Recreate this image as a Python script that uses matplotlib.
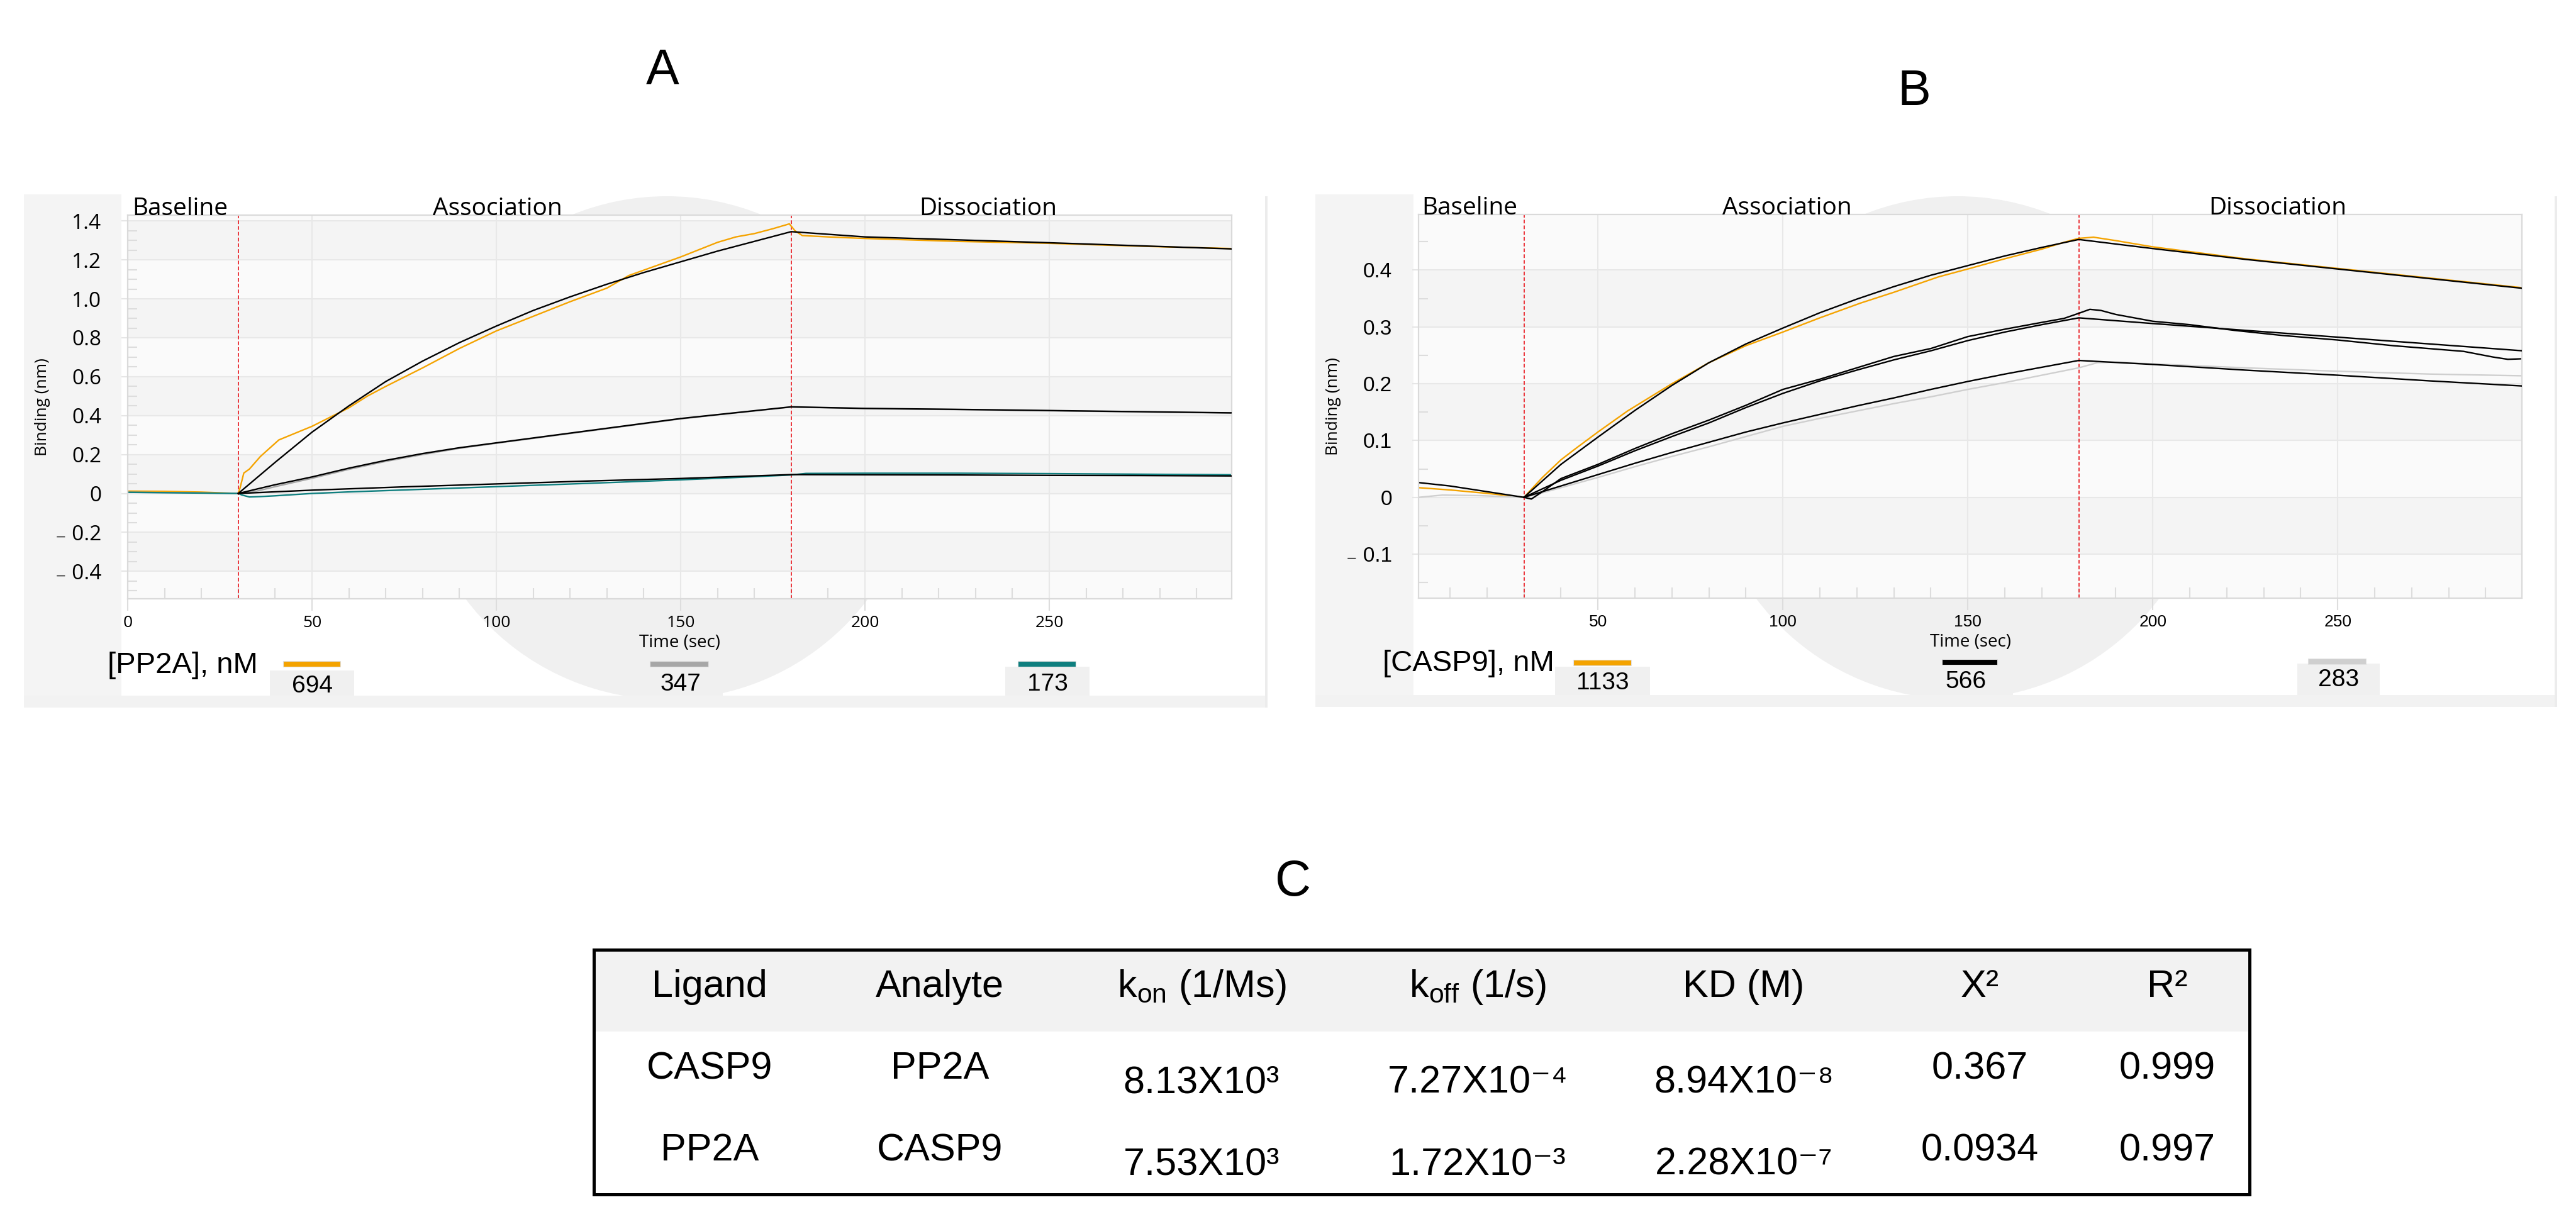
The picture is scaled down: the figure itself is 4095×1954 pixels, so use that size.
# BLI sensorgrams (PP2A / CASP9) and kinetics table
import matplotlib
matplotlib.use('Agg')
import matplotlib.pyplot as plt
import matplotlib.ticker as tck
from matplotlib.patches import Rectangle, Circle

plt.rcParams['mathtext.fontset'] = 'custom'
plt.rcParams['mathtext.rm'] = 'Liberation Sans'
plt.rcParams['mathtext.it'] = 'Liberation Sans:italic'
plt.rcParams['mathtext.bf'] = 'Liberation Sans:bold'

W, H = 4095, 1954

# ---------------- panel A : analyte PP2A ----------------
a694_t = [0, 10, 20, 30, 30.5, 31.5, 33, 36, 41, 50, 60, 65, 70, 80, 90, 100, 110, 120, 130, 136,
          150, 160, 165, 170, 175, 179.5, 181, 183, 190, 200, 225, 250, 275, 300]
a694_v = [0.012, 0.011, 0.007, 0.0, 0.03, 0.105, 0.125, 0.19, 0.275, 0.345, 0.44, 0.5, 0.55, 0.645,
          0.745, 0.835, 0.91, 0.985, 1.055, 1.12, 1.215, 1.29, 1.318, 1.335, 1.36, 1.385, 1.35, 1.325,
          1.318, 1.31, 1.295, 1.285, 1.27, 1.258]
a694_fit_t = [30, 40, 50, 60, 70, 80, 90, 100, 110, 120, 130, 140, 150, 160, 170, 180, 200, 225, 250, 275, 300]
a694_fit_v = [0, 0.16, 0.315, 0.45, 0.575, 0.68, 0.775, 0.86, 0.94, 1.01, 1.075, 1.135, 1.19, 1.245,
              1.295, 1.345, 1.318, 1.303, 1.288, 1.272, 1.256]

a347_t = [0, 15, 30, 35, 40, 50, 60, 70, 80, 90, 100, 110, 120, 130, 140, 150, 160, 170, 180, 190,
          200, 225, 250, 275, 300]
a347_v = [0.006, 0.004, 0.0, 0.012, 0.035, 0.078, 0.124, 0.165, 0.2, 0.232, 0.258, 0.283, 0.308,
          0.333, 0.358, 0.383, 0.404, 0.424, 0.444, 0.44, 0.436, 0.431, 0.425, 0.419, 0.413]
a347_fit_t = [30, 40, 50, 60, 70, 80, 90, 100, 110, 120, 130, 140, 150, 160, 170, 180, 200, 225, 250, 275, 300]
a347_fit_v = [0, 0.045, 0.085, 0.13, 0.17, 0.205, 0.235, 0.26, 0.285, 0.31, 0.335, 0.36, 0.385, 0.405,
              0.425, 0.445, 0.437, 0.432, 0.426, 0.42, 0.414]

a173_t = [0, 15, 30, 31, 33, 36, 40, 45, 50, 60, 75, 100, 125, 150, 165, 180, 184, 200, 225, 250, 275, 300]
a173_v = [0.006, 0.003, 0.0, -0.008, -0.018, -0.016, -0.012, -0.006, 0.0, 0.008, 0.018, 0.035, 0.052,
          0.07, 0.082, 0.095, 0.103, 0.104, 0.104, 0.102, 0.099, 0.096]
a173_fit_t = [30, 50, 75, 100, 125, 150, 165, 180, 200, 225, 250, 275, 300]
a173_fit_v = [0, 0.017, 0.034, 0.049, 0.064, 0.077, 0.087, 0.097, 0.096, 0.095, 0.093, 0.092, 0.09]

# ---------------- panel B : analyte CASP9 ----------------
b1133_t = [1.5, 10, 20, 30, 35, 40, 44, 50, 58, 70, 80, 90, 100, 110, 121, 130, 142, 150, 160, 170,
           176, 180, 184, 190, 200, 225, 250, 275, 300]
b1133_v = [0.017, 0.013, 0.007, 0.0, 0.035, 0.066, 0.086, 0.115, 0.152, 0.2, 0.237, 0.267, 0.291,
           0.316, 0.342, 0.361, 0.388, 0.402, 0.42, 0.437, 0.449, 0.456, 0.458, 0.452, 0.441, 0.42,
           0.403, 0.386, 0.369]
b1133_fit_t = [30, 40, 50, 60, 70, 80, 90, 100, 110, 120, 130, 140, 150, 160, 170, 180, 200, 225, 250, 275, 300]
b1133_fit_v = [0, 0.058, 0.106, 0.153, 0.197, 0.237, 0.27, 0.298, 0.325, 0.349, 0.371, 0.391, 0.408,
               0.425, 0.44, 0.454, 0.438, 0.419, 0.402, 0.385, 0.368]

b566_t = [1.5, 10, 20, 30, 32, 35, 40, 50, 60, 70, 80, 90, 100, 110, 120, 130, 140, 150, 160, 170,
          176, 180, 183, 186, 190, 200, 210, 222, 235, 250, 265, 284, 292, 296, 300]
b566_v = [0.026, 0.02, 0.01, 0.0, -0.003, 0.01, 0.033, 0.058, 0.086, 0.112, 0.136, 0.162, 0.19, 0.208,
          0.228, 0.248, 0.262, 0.283, 0.296, 0.308, 0.315, 0.324, 0.331, 0.329, 0.322, 0.31, 0.304,
          0.294, 0.285, 0.277, 0.267, 0.257, 0.247, 0.243, 0.244]
b566_fit_t = [30, 40, 50, 60, 70, 80, 90, 100, 110, 120, 130, 140, 150, 160, 170, 180, 200, 225, 250, 275, 300]
b566_fit_v = [0, 0.03, 0.055, 0.082, 0.107, 0.131, 0.158, 0.183, 0.205, 0.224, 0.242, 0.258, 0.276,
              0.291, 0.304, 0.316, 0.306, 0.294, 0.282, 0.27, 0.258]

b283_t = [1.5, 8, 18, 30, 35, 40, 50, 60, 70, 80, 90, 100, 110, 120, 130, 140, 150, 160, 170, 180,
          185, 190, 200, 225, 250, 275, 300]
b283_v = [0.0, 0.004, 0.003, 0.0, 0.008, 0.017, 0.035, 0.054, 0.072, 0.089, 0.107, 0.125, 0.139,
          0.152, 0.165, 0.177, 0.19, 0.202, 0.215, 0.228, 0.237, 0.238, 0.235, 0.228, 0.222, 0.217, 0.214]
b283_fit_t = [30, 40, 50, 60, 70, 80, 90, 100, 110, 120, 130, 140, 150, 160, 170, 180, 200, 225, 250, 275, 300]
b283_fit_v = [0, 0.02, 0.04, 0.06, 0.079, 0.097, 0.115, 0.131, 0.146, 0.161, 0.175, 0.19, 0.204,
              0.217, 0.229, 0.241, 0.234, 0.224, 0.215, 0.205, 0.196]

a_yticks = [-0.4, -0.2, 0, 0.2, 0.4, 0.6, 0.8, 1.0, 1.2, 1.4]
a_ylabels = ['\u208b 0.4', '\u208b 0.2', '0', '0.2', '0.4', '0.6', '0.8', '1.0', '1.2', '1.4']
a_xticks = [0, 50, 100, 150, 200, 250]
b_yticks = [-0.1, 0, 0.1, 0.2, 0.3, 0.4]
b_ylabels = ['\u208b 0.1', '0', '0.1', '0.2', '0.3', '0.4']
b_xticks = [50, 100, 150, 200, 250]

a_conc = ['694', '347', '173']
b_conc = ['1133', '566', '283']

# ---------------- table C ----------------
tbl_headers = ['Ligand', 'Analyte', r'k$_{\mathrm{on}}$ (1/Ms)', r'k$_{\mathrm{off}}$ (1/s)',
               'KD (M)', 'X\u00b2', 'R\u00b2']
tbl_ligand = ['CASP9', 'PP2A']
tbl_analyte = ['PP2A', 'CASP9']
tbl_kon = [(8.13, 3), (7.53, 3)]
tbl_koff = [(7.27, -4), (1.72, -3)]
tbl_kd = [(8.94, -8), (2.28, -7)]
tbl_chi2 = ['0.367', '0.0934']
tbl_r2 = ['0.999', '0.997']

ORANGE = '#f4a300'
TEAL = '#0f7f7f'
GREY = '#a6a6a6'
LGREY = '#cfcfcf'

fig = plt.figure(figsize=(W / 100, H / 100), dpi=100)


def fx(px):
    return px / W


def fy(py):
    return 1 - py / H


def frect(x0, y0, x1, y1, **kw):
    r = Rectangle((fx(x0), fy(y1)), (x1 - x0) / W, (y1 - y0) / H,
                  transform=fig.transFigure, **kw)
    fig.add_artist(r)
    return r


def panel_back(x0, x1, strip_x1, y0, y1, disc_c):
    frect(x0, y0 + 2, strip_x1, y1, facecolor='#f4f4f4', edgecolor='none', zorder=-6)
    frect(x0, y1 - 19, x1, y1, facecolor='#f2f2f2', edgecolor='none', zorder=-6)
    frect(x1 - 4, y0 + 5, x1, y1, facecolor='#ececec', edgecolor='none', zorder=-6)
    disc = Circle((disc_c[0] / 100, (H - disc_c[1]) / 100), 4.0,
                  transform=fig.dpi_scale_trans, facecolor='#f0f0f0', edgecolor='none', zorder=-8)
    fig.add_artist(disc)


def style_axes(ax, xlim, ylim, xticks, yticks, ylabels, tickfont, dark_bands):
    ax.set_xlim(*xlim)
    ax.set_ylim(*ylim)
    ax.set_facecolor('#fafafa')
    for lo, hi in dark_bands:
        ax.axhspan(lo, hi, color='#f4f4f4', lw=0, zorder=0.1)
    ax.set_xticks(xticks)
    ax.set_yticks(yticks, ylabels)
    ax.xaxis.set_minor_locator(tck.MultipleLocator(10))
    ax.yaxis.set_minor_locator(tck.MultipleLocator(0.05))
    ax.grid(True, which='major', color='#e8e8e8', lw=1.5, zorder=0.2)
    ax.set_axisbelow(True)
    for s in ax.spines.values():
        s.set_color('#dadada')
        s.set_linewidth(1.6)
    ax.tick_params(axis='x', which='major', direction='out', length=14, width=1.5,
                   color='#dddddd', pad=5, labelsize=19)
    ax.tick_params(axis='x', which='minor', direction='in', length=12, width=1.5, color='#dddddd')
    ax.tick_params(axis='y', which='major', direction='out', length=7, width=1.5,
                   color='#e6e6e6', pad=23, labelsize=24)
    ax.tick_params(axis='y', which='minor', direction='in', length=11, width=1.5, color='#dddddd')
    for lab in ax.get_xticklabels() + ax.get_yticklabels():
        lab.set_family([tickfont, 'DejaVu Sans'])
    for x in (30, 180):
        ax.axvline(x, color='#e8141b', lw=1.2, ls=(0, (3.5, 2)), zorder=1.5)
    ax.set_ylabel('Binding (nm)', family='Open Sans', fontsize=19)
    ax.yaxis.set_label_coords(-0.07, 0.5)
    ax.set_xlabel('Time (sec)', family='Open Sans', fontsize=20)
    ax.xaxis.set_label_coords(0.5, -0.115)
    ax.xaxis.label.set_va('center')


def phase_labels(ax, xs):
    tr = ax.get_xaxis_transform()
    ax.text(xs[0], 1.0, 'Baseline', transform=tr, ha='left', va='baseline',
            family='Open Sans', fontsize=28, clip_on=False)
    ax.text(xs[1], 1.0, 'Association', transform=tr, ha='center', va='baseline',
            family='Open Sans', fontsize=28, clip_on=False)
    ax.text(xs[2], 1.0, 'Dissociation', transform=tr, ha='center', va='baseline',
            family='Open Sans', fontsize=28, clip_on=False)


def legend(title, title_xy, items):
    fig.text(fx(title_xy[0]), fy(title_xy[1]), title, ha='left', va='baseline',
             family='Liberation Sans', fontsize=34)
    for lab, col, bar, box, base in items:
        frect(box[0], box[1], box[2], box[3], facecolor='#f0f0f0', edgecolor='none', zorder=1)
        frect(bar[0], bar[1] - 4.5, bar[2], bar[1] + 4.5, facecolor=col, edgecolor='#e2e2e2',
              lw=0.8, zorder=2)
        fig.text(fx((box[0] + box[2]) / 2), fy(base), lab, ha='center', va='baseline',
                 family='Liberation Sans', fontsize=28)


# ---------- panel A ----------
panel_back(38, 2015, 193, 307, 1125, (1060, 712))
axA = fig.add_axes([fx(203), fy(952), (1958 - 203) / W, (952 - 342) / H])
style_axes(axA, (0, 299.5), (-0.541, 1.43), a_xticks, a_yticks, a_ylabels, 'Open Sans',
           [(1.2, 1.4), (0.8, 1.0), (0.4, 0.6), (0, 0.2), (-0.4, -0.2)])
axA.plot(a694_t, a694_v, color=ORANGE, lw=1.7, zorder=2)
axA.plot(a347_t, a347_v, color=GREY, lw=1.7, zorder=2)
axA.plot(a173_t, a173_v, color=TEAL, lw=1.7, zorder=2)
axA.plot(a694_fit_t, a694_fit_v, color='black', lw=1.7, zorder=3)
axA.plot(a347_fit_t, a347_fit_v, color='black', lw=1.7, zorder=3)
axA.plot(a173_fit_t, a173_fit_v, color='black', lw=1.7, zorder=3)
phase_labels(axA, (1.2, 100.3, 233.4))
legend('[PP2A], nM', (171, 1070), [
    (a_conc[0], ORANGE, (450, 1055, 541), (429, 1066, 563, 1106), 1101),
    (a_conc[1], GREY, (1033, 1055, 1126), (1015, 1060, 1149, 1106), 1098),
    (a_conc[2], TEAL, (1618, 1055, 1710), (1598, 1060, 1732, 1106), 1098),
])

# ---------- panel B ----------
panel_back(2091, 4065, 2247, 307, 1124, (3112, 712))
axB = fig.add_axes([fx(2255), fy(951), (4009 - 2255) / W, (951 - 341) / H])
style_axes(axB, (1.5, 299.8), (-0.1775, 0.498), b_xticks, b_yticks, b_ylabels, 'Liberation Sans',
           [(0.3, 0.4), (0.1, 0.2), (-0.1, 0)])
axB.plot(b1133_t, b1133_v, color=ORANGE, lw=1.7, zorder=2)
axB.plot(b283_t, b283_v, color=LGREY, lw=1.7, zorder=2)
axB.plot(b566_t, b566_v, color='black', lw=1.7, zorder=2)
axB.plot(b1133_fit_t, b1133_fit_v, color='black', lw=1.7, zorder=3)
axB.plot(b566_fit_t, b566_fit_v, color='black', lw=1.7, zorder=3)
axB.plot(b283_fit_t, b283_fit_v, color='black', lw=1.7, zorder=3)
phase_labels(axB, (2.4, 101.2, 233.8))
legend('[CASP9], nM', (2198, 1067), [
    (b_conc[0], ORANGE, (2501, 1053, 2593), (2472, 1060, 2623, 1105), 1096),
    (b_conc[1], 'black', (3087, 1052, 3175), (3050, 1060, 3200, 1105), 1094),
    (b_conc[2], LGREY, (3669, 1051, 3761), (3652, 1055, 3783, 1105), 1091),
])

# ---------- panel letters ----------
for letter, (px, py) in zip(['A', 'B', 'C'], [(1053, 134), (3043, 167), (2056, 1424)]):
    fig.text(fx(px), fy(py), letter, ha='center', va='baseline', family='Liberation Sans',
             fontsize=57)

# ---------- table C ----------
frect(946, 1512, 3573, 1640, facecolor='#f2f2f2', edgecolor='none', zorder=1)
frect(944, 1510, 3576, 1899, facecolor='none', edgecolor='black', lw=3.6, zorder=3)
col_x = [1128, 1494, 1910, 2349, 2772, 3147, 3445]
row_base = [1715, 1845]
exp_base = [1737, 1867]
SUP = str.maketrans('-0123456789', '\u207b\u2070\u00b9\u00b2\u00b3\u2074\u2075\u2076\u2077\u2078\u2079')
TFONT = ['Liberation Sans', 'DejaVu Sans']


def sci(m, e):
    return '%.2fX10%s' % (m, str(e).translate(SUP))


for cx, hd in zip(col_x, tbl_headers):
    fig.text(fx(cx), fy(1585), hd, ha='center', va='baseline', family=TFONT, fontsize=44)
for i in range(2):
    plain = [tbl_ligand[i], tbl_analyte[i], None, None, None, tbl_chi2[i], tbl_r2[i]]
    sci_vals = [None, None, sci(*tbl_kon[i]), sci(*tbl_koff[i]), sci(*tbl_kd[i]), None, None]
    for cx, p, s in zip(col_x, plain, sci_vals):
        if p is not None:
            fig.text(fx(cx), fy(row_base[i]), p, ha='center', va='baseline',
                     family=TFONT, fontsize=44)
        else:
            fig.text(fx(cx), fy(exp_base[i]), s, ha='center', va='baseline',
                     family=TFONT, fontsize=44)

fig.savefig('out.png', dpi=100, facecolor='white')
